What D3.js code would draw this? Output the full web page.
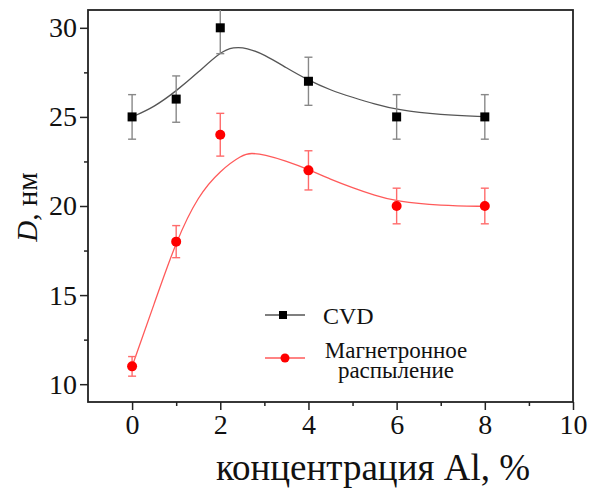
<!DOCTYPE html>
<html>
<head>
<meta charset="utf-8">
<script src="https://cdn.jsdelivr.net/npm/d3@7"></script>
<style>
  body { margin: 0; background: #fff; }
  svg { display: block; }
  svg text { font-family: "Liberation Serif", "DejaVu Serif", serif; }
</style>
</head>
<body>
<svg id="chart"></svg>
<script>
// Measured points
const conc = [0, 1, 2, 4, 6, 8];
const cvdD = [25, 26, 30, 27, 25, 25];
const cvdErr = [1.25, 1.3, 1.45, 1.35, 1.25, 1.25];
const magD = [11, 18, 24, 22, 20, 20];
const magErr = [0.55, 0.9, 1.2, 1.1, 1.0, 1.0];

// Fitted curves
const cvdFitX = [0, 0.5, 1, 1.5, 2, 2.3, 2.6, 3, 3.5, 4, 4.5, 5, 5.5, 6, 7, 8];
const cvdFit = [25.0, 25.55, 26.45, 27.5, 28.65, 28.92, 28.88, 28.5, 27.75, 27.05, 26.5, 26.1, 25.72, 25.4, 25.1, 25.02];
const magFitX = [0, 0.5, 1, 1.5, 2, 2.5, 2.7, 3, 3.5, 4, 4.5, 5, 5.5, 6, 7, 8];
const magFit = [11.0, 14.5, 18.05, 20.6, 22.0, 22.88, 22.98, 22.88, 22.52, 22.05, 21.5, 21.03, 20.6, 20.25, 20.02, 19.98];

const xTicks = [0, 2, 4, 6, 8, 10];
const xMinor = [1, 3, 5, 7, 9];
const yTicks = [10, 15, 20, 25, 30];
const yMinor = [12.5, 17.5, 22.5, 27.5];

const W = 592, H = 489;
const plot = { left: 88, right: 573, top: 10, bottom: 402 };

const svg = d3.select("#chart").attr("width", W).attr("height", H);
svg.append("rect").attr("width", W).attr("height", H).attr("fill", "#fff");

const x = d3.scaleLinear().domain([-1, 10]).range([plot.left, plot.right]);
const y = d3.scaleLinear().domain([9, 31]).range([plot.bottom, plot.top]);

svg.append("defs").append("clipPath").attr("id", "clip")
    .append("rect")
    .attr("x", plot.left).attr("y", plot.top)
    .attr("width", plot.right - plot.left).attr("height", plot.bottom - plot.top);

// Axes
const styleAxis = g => {
    g.attr("font-family", null).attr("font-size", null);
    g.select(".domain").remove();
    g.selectAll(".tick line").attr("stroke", "#222").attr("stroke-width", 1.5);
    g.selectAll(".tick text").attr("fill", "#111")
        .style("font-size", "28px")
        .style("font-family", "'Liberation Serif', serif");
};

svg.append("g")
    .attr("transform", `translate(0,${plot.bottom})`)
    .call(d3.axisBottom(x).tickValues(xTicks).tickSize(8).tickPadding(4).tickFormat(d3.format("d")))
    .call(styleAxis);
svg.append("g")
    .attr("transform", `translate(0,${plot.bottom})`)
    .call(d3.axisBottom(x).tickValues(xMinor).tickSize(4).tickFormat(""))
    .call(styleAxis);
svg.append("g")
    .attr("transform", `translate(${plot.left},0)`)
    .call(d3.axisLeft(y).tickValues(yTicks).tickSize(8).tickPadding(3).tickFormat(d3.format("d")))
    .call(styleAxis);
svg.append("g")
    .attr("transform", `translate(${plot.left},0)`)
    .call(d3.axisLeft(y).tickValues(yMinor).tickSize(4).tickFormat(""))
    .call(styleAxis);

// Frame
svg.append("rect")
    .attr("x", plot.left).attr("y", plot.top)
    .attr("width", plot.right - plot.left).attr("height", plot.bottom - plot.top)
    .attr("fill", "none").attr("stroke", "#222").attr("stroke-width", 1.8);

const data = svg.append("g").attr("clip-path", "url(#clip)");

const line = d3.line().curve(d3.curveBasis)
    .x(d => x(d[0])).y(d => y(d[1]));

data.append("path")
    .datum(cvdFitX.map((v, i) => [v, cvdFit[i]]))
    .attr("d", line).attr("fill", "none").attr("stroke", "#555").attr("stroke-width", 1.3);
data.append("path")
    .datum(magFitX.map((v, i) => [v, magFit[i]]))
    .attr("d", line).attr("fill", "none").attr("stroke", "#ff5a5a").attr("stroke-width", 1.3);

function errorBars(vals, errs, color) {
    const g = data.append("g").attr("stroke", color).attr("stroke-width", 1.4);
    conc.forEach((c, i) => {
        const cx = x(c);
        const y0 = y(vals[i] - errs[i]), y1 = y(vals[i] + errs[i]);
        g.append("line").attr("x1", cx).attr("x2", cx).attr("y1", y0).attr("y2", y1);
        g.append("line").attr("x1", cx - 4).attr("x2", cx + 4).attr("y1", y0).attr("y2", y0);
        g.append("line").attr("x1", cx - 4).attr("x2", cx + 4).attr("y1", y1).attr("y2", y1);
    });
}
errorBars(cvdD, cvdErr, "#888");
errorBars(magD, magErr, "#ff6b6b");

data.selectAll(".sq").data(conc).enter().append("rect")
    .attr("x", (d) => x(d) - 4.5).attr("y", (d, i) => y(cvdD[i]) - 4.5)
    .attr("width", 9).attr("height", 9).attr("fill", "#000");
data.selectAll(".dot").data(conc).enter().append("circle")
    .attr("cx", d => x(d)).attr("cy", (d, i) => y(magD[i]))
    .attr("r", 5).attr("fill", "#ff0000");

// Legend
const leg = svg.append("g");
leg.append("line").attr("x1", 265).attr("x2", 305).attr("y1", 315).attr("y2", 315)
    .attr("stroke", "#555").attr("stroke-width", 1.3);
leg.append("rect").attr("x", 279).attr("y", 311).attr("width", 8).attr("height", 8).attr("fill", "#000");
leg.append("text").attr("x", 323).attr("y", 324).attr("font-size", 24).attr("fill", "#111").text("CVD");

leg.append("line").attr("x1", 265).attr("x2", 305).attr("y1", 358).attr("y2", 358)
    .attr("stroke", "#ff5a5a").attr("stroke-width", 1.3);
leg.append("circle").attr("cx", 285).attr("cy", 358).attr("r", 4.5).attr("fill", "#ff0000");
leg.append("text").attr("x", 396).attr("y", 358).attr("text-anchor", "middle")
    .attr("font-size", 23).attr("fill", "#111").text("Магнетронное");
leg.append("text").attr("x", 396).attr("y", 378).attr("text-anchor", "middle")
    .attr("font-size", 23).attr("fill", "#111").text("распыление");

// Axis titles
svg.append("text")
    .attr("x", 373).attr("y", 480).attr("text-anchor", "middle")
    .attr("font-size", 37).attr("fill", "#111")
    .text("концентрация Al, %");

const yt = svg.append("text")
    .attr("transform", "translate(37,207) rotate(-90)")
    .attr("text-anchor", "middle").attr("font-size", 29).attr("fill", "#111");
yt.append("tspan").attr("font-style", "italic").text("D");
yt.append("tspan").text(", нм");
</script>
</body>
</html>
